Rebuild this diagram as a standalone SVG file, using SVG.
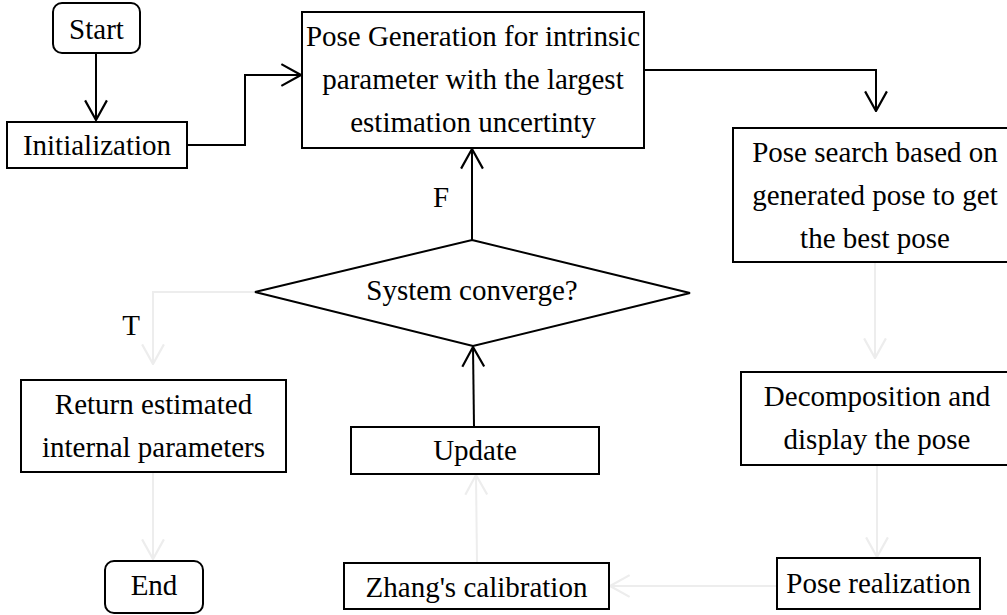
<svg xmlns="http://www.w3.org/2000/svg" width="1007" height="615" viewBox="0 0 1007 615">
<style>
.box{fill:#fff;stroke:#000;stroke-width:2}
.t{font-family:"Liberation Serif","Times New Roman",serif;font-size:29px;fill:#000;text-anchor:middle}
.c{fill:none;stroke:#000;stroke-width:2}
.cl{fill:none;stroke:#ededed;stroke-width:2}
</style>
<defs>
<marker id="ab" markerUnits="userSpaceOnUse" markerWidth="22" markerHeight="24" viewBox="-1 -1 20 22" refX="18" refY="10" orient="auto">
<path d="M0,0 L18,10 L0,20" fill="none" stroke="#000" stroke-width="2"/>
</marker>
<marker id="al" markerUnits="userSpaceOnUse" markerWidth="22" markerHeight="24" viewBox="-1 -1 20 22" refX="18" refY="10" orient="auto">
<path d="M0,0 L18,10 L0,20" fill="none" stroke="#ededed" stroke-width="2"/>
</marker>
</defs>
<rect width="1007" height="615" fill="#fff"/>
<g id="connectors">
<path class="c" d="M96,53 L96,120" marker-end="url(#ab)"/>
<path class="c" d="M187,145 L245,145 L245,75 L301,75" marker-end="url(#ab)"/>
<path class="c" d="M644,70 L876,70 L876,111" marker-end="url(#ab)"/>
<path class="c" d="M472,240 L472,149" marker-end="url(#ab)"/>
<path class="c" d="M474,427 L473,347" marker-end="url(#ab)"/>
<path class="cl" d="M875,262 L875,358" marker-end="url(#al)"/>
<path class="cl" d="M877,465 L877,557" marker-end="url(#al)"/>
<path class="cl" d="M777,586 L610,586" marker-end="url(#al)"/>
<path class="cl" d="M477,563 L476,475" marker-end="url(#al)"/>
<path class="cl" d="M255,292 L153,292 L153,364" marker-end="url(#al)"/>
<path class="cl" d="M153,472 L153,559" marker-end="url(#al)"/>
<text class="t" x="441" y="207">F</text>
<text class="t" x="131" y="335">T</text>
</g>
<g id="start">
<rect class="box" x="53" y="3" width="87" height="50" rx="9"/>
<text class="t" x="96.5" y="39">Start</text>
</g>
<g id="init">
<rect class="box" x="7" y="122" width="180" height="46"/>
<text class="t" x="97" y="155">Initialization</text>
</g>
<g id="posegen">
<rect class="box" x="302" y="12" width="342" height="136"/>
<text class="t" x="473" y="46">Pose Generation for intrinsic</text>
<text class="t" x="473" y="89">parameter with the largest</text>
<text class="t" x="473" y="132">estimation uncertinty</text>
</g>
<g id="posesearch">
<rect class="box" x="733" y="128" width="284" height="134"/>
<text class="t" x="875" y="162">Pose search based on</text>
<text class="t" x="875" y="205">generated pose to get</text>
<text class="t" x="875" y="248">the best pose</text>
</g>
<g id="decomp">
<rect class="box" x="741" y="372" width="272" height="93"/>
<text class="t" x="877" y="406">Decomposition and</text>
<text class="t" x="877" y="449">display the pose</text>
</g>
<g id="realization">
<rect class="box" x="777" y="558" width="203" height="51"/>
<text class="t" x="878.5" y="593">Pose realization</text>
</g>
<g id="zhang">
<rect class="box" x="344" y="563" width="265" height="46"/>
<text class="t" x="476.5" y="597">Zhang's calibration</text>
</g>
<g id="update">
<rect class="box" x="351" y="427" width="248" height="47"/>
<text class="t" x="475" y="460">Update</text>
</g>
<g id="converge">
<polygon class="box" points="472,240 690,293 473,346 255,292"/>
<text class="t" x="472" y="300">System converge?</text>
</g>
<g id="return">
<rect class="box" x="21" y="380" width="265" height="92"/>
<text class="t" x="153.5" y="414">Return estimated</text>
<text class="t" x="153.5" y="457">internal parameters</text>
</g>
<g id="end">
<rect class="box" x="105" y="561" width="98" height="52" rx="9"/>
<text class="t" x="154" y="595">End</text>
</g>
</svg>
